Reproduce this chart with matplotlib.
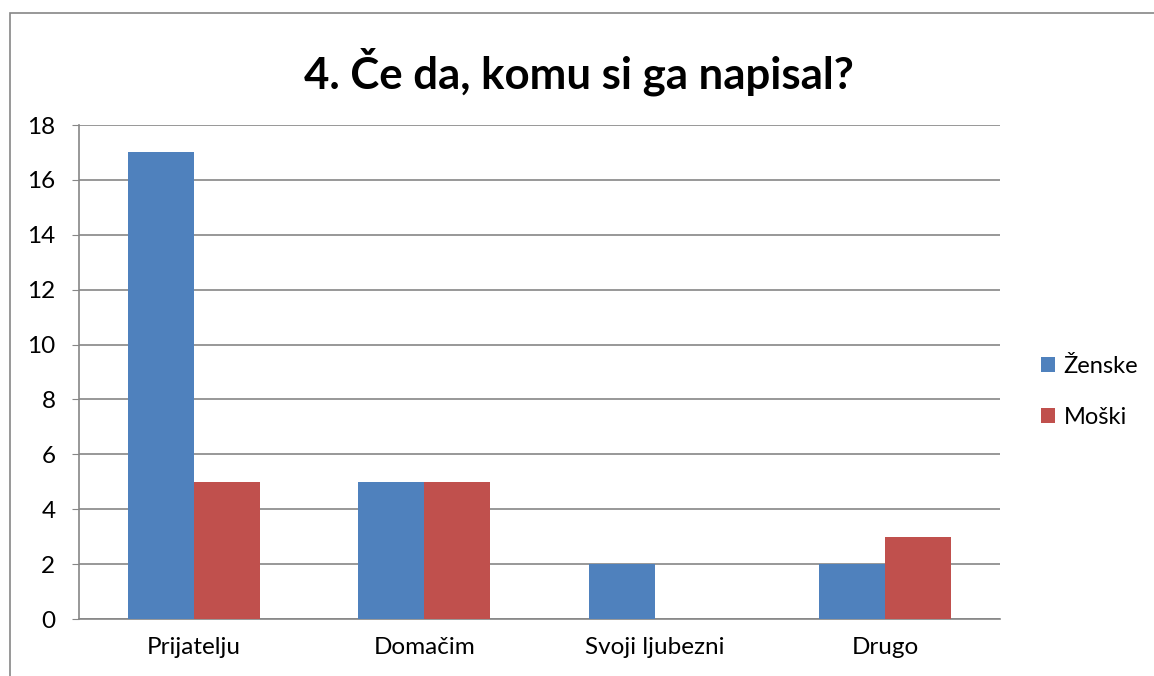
import numpy as np
import matplotlib.pyplot as plt
from matplotlib.patches import Rectangle

categories = ['Prijatelju', 'Domačim', 'Svoji ljubezni', 'Drugo']
zenske = [17, 5, 2, 2]
moski = [5, 5, 0, 3]
series_names = ['Ženske', 'Moški']
title = '4. Če da, komu si ga napisal?'

plt.rcParams['font.family'] = ['Lato', 'DejaVu Sans']

fig = plt.figure(figsize=(11.54, 6.76), dpi=100)
ax = fig.add_axes([79 / 1154, 1 - 619 / 676, 921 / 1154, 494 / 676])

x = np.arange(len(categories))
w = 0.287
ax.bar(x - w / 2, zenske, w, color='#4F81BD', label=series_names[0], zorder=3)
ax.bar(x + w / 2, moski, w, color='#C0504D', label=series_names[1], zorder=3)

ax.set_xlim(-0.5, len(categories) - 0.5)
ax.set_ylim(0, 18)
ax.set_yticks(range(0, 19, 2))
ax.set_xticks(x)
ax.set_xticklabels(categories)
ax.grid(axis='y', color='#868686', linewidth=1.2, zorder=0)
for s in ['top', 'right']:
    ax.spines[s].set_visible(False)
for s in ['left', 'bottom']:
    ax.spines[s].set_color('#868686')
    ax.spines[s].set_linewidth(1.2)
ax.tick_params(axis='y', length=5, color='#868686', labelsize=17.5, pad=12)
ax.tick_params(axis='x', length=0, labelsize=17.5, pad=13)

fig.text(0.502, 1 - 72 / 676, title, ha='center', va='center',
         fontsize=31.5, fontweight='bold')

fig.legend(loc='center left', bbox_to_anchor=(1041 / 1154, 1 - 392 / 676),
           frameon=False, fontsize=17, handlelength=0.6, handleheight=0.6,
           handletextpad=0.35, labelspacing=1.25, borderpad=0,
           borderaxespad=0)

# outer chart border
fig.patches.append(Rectangle((10 / 1154, -0.1), 2, 1 - 13 / 676 + 0.1,
                             transform=fig.transFigure, fill=False,
                             edgecolor='#868686', linewidth=1.2))

fig.savefig('out.png', dpi=100)
